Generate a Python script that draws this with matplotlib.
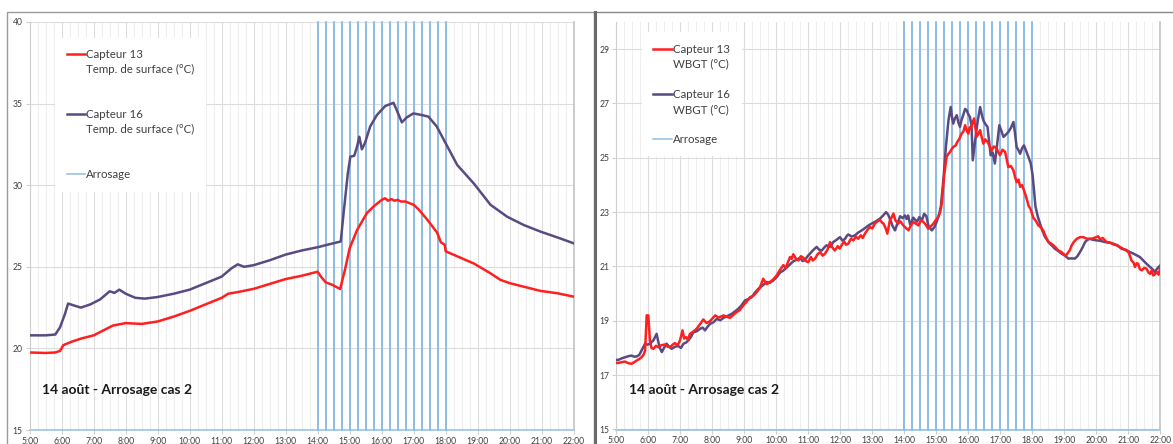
import matplotlib
matplotlib.use("Agg")
import matplotlib.pyplot as plt
from matplotlib.lines import Line2D
from matplotlib.patches import Rectangle
import matplotlib.ticker as mticker

plt.rcParams['font.family'] = ['Lato', 'DejaVu Sans']

# ---------------- data ----------------
hour_labels = ["5:00", "6:00", "7:00", "8:00", "9:00", "10:00", "11:00", "12:00", "13:00",
               "14:00", "15:00", "16:00", "17:00", "18:00", "19:00", "20:00", "21:00", "22:00"]

# Left chart: surface temperature (time in decimal hours)
surf13_t = [5.0, 5.5, 5.8, 5.95, 6.05, 6.3, 6.6, 7.0, 7.3, 7.6, 8.0, 8.5, 9.0, 9.5, 10.0, 10.5,
            11.0, 11.2, 11.5, 12.0, 12.5, 13.0, 13.5, 14.0, 14.1, 14.25, 14.45, 14.7, 14.85, 15.0,
            15.23, 15.54, 15.75, 16.0, 16.1, 16.2, 16.3, 16.4, 16.5, 16.6, 16.74, 17.0, 17.16,
            17.42, 17.73, 17.85, 17.97, 18.0, 18.88, 19.4, 19.71, 20.0, 20.44, 20.97, 21.49, 22.0]
surf13_v = [19.75, 19.72, 19.75, 19.85, 20.2, 20.4, 20.6, 20.8, 21.1, 21.4, 21.55, 21.5, 21.65, 21.95,
            22.3, 22.7, 23.1, 23.35, 23.45, 23.65, 23.95, 24.25, 24.45, 24.7, 24.4, 24.05, 23.9, 23.64,
            24.8, 26.15, 27.25, 28.3, 28.7, 29.1, 29.2, 29.05, 29.15, 29.05, 29.1, 29.0, 29.0, 28.8,
            28.5, 27.9, 27.1, 26.5, 26.35, 25.95, 25.2, 24.6, 24.2, 24.0, 23.78, 23.52, 23.38, 23.17]

surf16_t = [5.0, 5.5, 5.8, 5.95, 6.1, 6.2, 6.35, 6.6, 6.9, 7.2, 7.5, 7.65, 7.8, 8.0, 8.3, 8.6, 9.0,
            9.5, 10.0, 10.5, 11.0, 11.3, 11.5, 11.7, 12.0, 12.5, 13.0, 13.5, 14.0, 14.3, 14.72, 14.81,
            14.94, 15.02, 15.14, 15.23, 15.30, 15.38, 15.48, 15.64, 15.85, 16.11, 16.37, 16.47, 16.63,
            16.78, 16.99, 17.25, 17.46, 17.72, 17.99, 18.36, 18.88, 19.4, 19.92, 20.44, 20.97, 21.49, 22.0]
surf16_v = [20.8, 20.8, 20.85, 21.3, 22.1, 22.75, 22.65, 22.5, 22.7, 23.0, 23.5, 23.4, 23.6, 23.35,
            23.1, 23.05, 23.15, 23.35, 23.6, 24.0, 24.4, 24.9, 25.15, 25.0, 25.1, 25.4, 25.75, 26.0,
            26.2, 26.35, 26.55, 28.3, 30.7, 31.75, 31.8, 32.36, 32.97, 32.2, 32.6, 33.6, 34.3, 34.85,
            35.05, 34.6, 33.85, 34.15, 34.4, 34.3, 34.2, 33.6, 32.6, 31.24, 30.1, 28.8, 28.07, 27.56,
            27.15, 26.8, 26.44]

# Right chart: WBGT (rows of 10)
wbgt13_t = [5.00, 5.06, 5.17, 5.27, 5.38, 5.48, 5.56, 5.64, 5.72, 5.79,
            5.85, 5.90, 5.95, 6.00, 6.05, 6.10, 6.16, 6.24, 6.31, 6.40,
            6.52, 6.60, 6.68, 6.76, 6.83, 6.92, 6.99, 7.07, 7.12, 7.18,
            7.24, 7.30, 7.40, 7.51, 7.60, 7.72, 7.82, 7.93, 8.00, 8.09,
            8.20, 8.35, 8.45, 8.55, 8.66, 8.76, 8.86, 8.97, 9.07, 9.18,
            9.28, 9.39, 9.48, 9.59, 9.70, 9.80, 9.90, 10.01, 10.10, 10.22,
            10.30, 10.36, 10.43, 10.48, 10.53, 10.61, 10.69, 10.77, 10.85, 10.92,
            11.00, 11.08, 11.14, 11.21, 11.29, 11.37, 11.45, 11.52, 11.60, 11.68,
            11.75, 11.83, 11.92, 11.98, 12.04, 12.12, 12.18, 12.25, 12.33, 12.41,
            12.49, 12.56, 12.64, 12.70, 12.77, 12.85, 12.93, 13.00, 13.08, 13.16,
            13.24, 13.30, 13.35, 13.42, 13.47, 13.51, 13.55, 13.61, 13.66, 13.72,
            13.81, 13.88, 13.97, 14.05, 14.13, 14.20, 14.28, 14.36, 14.44, 14.52,
            14.60, 14.68, 14.75, 14.83, 14.91, 14.98, 15.06, 15.12, 15.17, 15.24,
            15.32, 15.38, 15.43, 15.48, 15.53, 15.60, 15.66, 15.72, 15.79, 15.85,
            15.90, 15.95, 16.00, 16.04, 16.07, 16.12, 16.18, 16.22, 16.26, 16.32,
            16.37, 16.42, 16.47, 16.53, 16.60, 16.66, 16.73, 16.80, 16.89, 16.94,
            16.99, 17.07, 17.15, 17.20, 17.25, 17.33, 17.41, 17.46, 17.51, 17.57,
            17.62, 17.68, 17.74, 17.81, 17.88, 17.95, 18.03, 18.11, 18.19, 18.26,
            18.34, 18.42, 18.50, 18.58, 18.66, 18.73, 18.81, 18.89, 18.97, 19.05,
            19.13, 19.18, 19.23, 19.31, 19.39, 19.49, 19.59, 19.72, 19.85, 19.95,
            20.06, 20.12, 20.20, 20.32, 20.44, 20.54, 20.64, 20.74, 20.84, 20.92,
            21.00, 21.05, 21.10, 21.16, 21.21, 21.26, 21.31, 21.36, 21.42, 21.50,
            21.57, 21.63, 21.68, 21.73, 21.78, 21.84, 21.89, 21.95, 22.00]
wbgt13_v = [17.45, 17.45, 17.48, 17.50, 17.44, 17.42, 17.48, 17.54, 17.60, 17.66,
            17.75, 17.91, 19.20, 19.20, 18.28, 18.00, 17.97, 18.08, 18.03, 18.10,
            18.13, 18.05, 18.03, 18.12, 18.18, 18.10, 18.28, 18.65, 18.35, 18.40,
            18.30, 18.52, 18.60, 18.71, 18.85, 19.05, 18.92, 18.99, 19.08, 19.20,
            19.12, 19.20, 19.15, 19.11, 19.22, 19.32, 19.40, 19.57, 19.70, 19.87,
            19.92, 20.06, 20.20, 20.55, 20.35, 20.43, 20.52, 20.67, 20.85, 21.05,
            20.95, 21.15, 21.35, 21.28, 21.45, 21.30, 21.22, 21.38, 21.32, 21.20,
            21.16, 21.35, 21.22, 21.29, 21.45, 21.53, 21.40, 21.47, 21.62, 21.90,
            21.70, 21.59, 21.75, 21.66, 21.78, 21.92, 21.80, 21.84, 22.02, 21.96,
            22.10, 22.02, 22.15, 22.05, 22.21, 22.35, 22.45, 22.40, 22.58, 22.66,
            22.72, 22.62, 22.58, 22.40, 22.21, 22.45, 22.70, 22.82, 22.95, 22.70,
            22.58, 22.66, 22.51, 22.42, 22.33, 22.50, 22.64, 22.58, 22.51, 22.70,
            22.64, 22.52, 22.39, 22.48, 22.58, 22.70, 22.82, 23.00, 23.31, 24.30,
            25.03, 25.15, 25.22, 25.32, 25.40, 25.45, 25.59, 25.70, 25.89, 25.98,
            26.20, 26.00, 25.89, 26.12, 26.08, 26.25, 26.45, 26.10, 25.77, 25.90,
            26.02, 25.75, 25.52, 25.68, 25.59, 25.45, 25.28, 25.42, 25.34, 25.20,
            25.10, 25.30, 25.22, 24.95, 24.66, 24.70, 24.54, 24.30, 24.11, 24.20,
            23.93, 24.00, 23.80, 23.55, 23.25, 23.10, 22.80, 22.68, 22.51, 22.45,
            22.33, 22.10, 21.90, 21.85, 21.78, 21.70, 21.59, 21.55, 21.47, 21.40,
            21.53, 21.62, 21.78, 21.92, 22.02, 22.08, 22.08, 22.02, 22.02, 22.06,
            22.11, 22.00, 22.05, 21.90, 21.88, 21.81, 21.78, 21.72, 21.65, 21.60,
            21.53, 21.40, 21.22, 21.15, 20.98, 21.12, 21.10, 20.90, 20.86, 20.95,
            20.92, 20.78, 20.73, 20.85, 20.67, 20.72, 20.80, 20.70, 20.98]

wbgt16_t = [5.00, 5.06, 5.17, 5.27, 5.38, 5.48, 5.56, 5.64, 5.72, 5.79,
            5.90, 5.98, 6.05, 6.16, 6.26, 6.35, 6.42, 6.50, 6.57, 6.65,
            6.73, 6.84, 6.94, 7.02, 7.10, 7.18, 7.25, 7.33, 7.41, 7.52,
            7.62, 7.70, 7.77, 7.85, 7.93, 8.04, 8.14, 8.25, 8.35, 8.48,
            8.61, 8.71, 8.81, 8.92, 9.02, 9.12, 9.23, 9.34, 9.44, 9.57,
            9.70, 9.80, 9.91, 10.02, 10.12, 10.22, 10.33, 10.43, 10.53, 10.64,
            10.74, 10.82, 10.90, 10.98, 11.05, 11.15, 11.26, 11.34, 11.42, 11.50,
            11.57, 11.68, 11.78, 11.88, 11.99, 12.07, 12.15, 12.20, 12.25, 12.36,
            12.46, 12.56, 12.67, 12.78, 12.88, 12.98, 13.08, 13.16, 13.24, 13.34,
            13.43, 13.49, 13.55, 13.63, 13.71, 13.79, 13.87, 13.95, 14.02, 14.07,
            14.12, 14.18, 14.23, 14.28, 14.34, 14.40, 14.47, 14.55, 14.62, 14.69,
            14.75, 14.80, 14.86, 14.94, 15.01, 15.08, 15.14, 15.22, 15.30, 15.38,
            15.45, 15.49, 15.53, 15.58, 15.64, 15.69, 15.74, 15.79, 15.84, 15.90,
            15.95, 16.00, 16.05, 16.10, 16.14, 16.19, 16.24, 16.30, 16.37, 16.42,
            16.47, 16.53, 16.60, 16.65, 16.70, 16.76, 16.83, 16.90, 16.97, 17.03,
            17.10, 17.17, 17.25, 17.33, 17.41, 17.46, 17.51, 17.56, 17.62, 17.68,
            17.74, 17.81, 17.88, 17.95, 18.01, 18.10, 18.17, 18.24, 18.32, 18.40,
            18.48, 18.55, 18.63, 18.71, 18.80, 18.92, 19.02, 19.13, 19.23, 19.33,
            19.41, 19.49, 19.57, 19.65, 19.72, 19.80, 19.90, 20.01, 20.14, 20.27,
            20.40, 20.53, 20.66, 20.79, 20.92, 21.05, 21.15, 21.26, 21.36, 21.47,
            21.57, 21.68, 21.76, 21.83, 21.92, 22.00]
wbgt16_v = [17.56, 17.56, 17.62, 17.66, 17.70, 17.72, 17.68, 17.69, 17.75, 17.91,
            18.16, 18.12, 18.16, 18.28, 18.52, 18.03, 17.85, 18.02, 18.16, 18.05,
            17.97, 18.05, 18.07, 18.00, 18.16, 18.20, 18.28, 18.40, 18.58, 18.62,
            18.71, 18.75, 18.65, 18.78, 18.89, 18.95, 19.07, 19.02, 19.11, 19.18,
            19.26, 19.35, 19.44, 19.58, 19.75, 19.80, 19.87, 20.05, 20.18, 20.30,
            20.43, 20.40, 20.49, 20.62, 20.78, 20.85, 20.97, 21.08, 21.19, 21.25,
            21.32, 21.20, 21.25, 21.38, 21.47, 21.60, 21.72, 21.62, 21.59, 21.70,
            21.78, 21.72, 21.90, 21.98, 22.08, 21.95, 22.02, 22.12, 22.18, 22.10,
            22.15, 22.25, 22.33, 22.42, 22.51, 22.58, 22.64, 22.70, 22.76, 22.88,
            23.00, 22.92, 22.76, 22.50, 22.33, 22.60, 22.85, 22.78, 22.88, 22.75,
            22.88, 22.55, 22.64, 22.80, 22.72, 22.65, 22.82, 22.70, 22.94, 22.85,
            22.51, 22.42, 22.33, 22.45, 22.64, 22.90, 23.19, 24.17, 25.40, 26.38,
            26.87, 26.50, 26.26, 26.45, 26.57, 26.30, 26.14, 26.40, 26.57, 26.80,
            26.75, 26.60, 26.51, 26.20, 24.91, 25.40, 25.89, 26.40, 26.87, 26.60,
            26.38, 26.25, 26.14, 25.60, 25.09, 25.20, 24.79, 25.50, 26.20, 26.00,
            25.77, 25.85, 25.95, 26.10, 26.32, 25.90, 25.40, 25.30, 25.15, 25.35,
            25.46, 25.25, 25.03, 24.80, 24.36, 23.20, 22.85, 22.58, 22.30, 22.08,
            21.95, 21.84, 21.75, 21.65, 21.58, 21.47, 21.40, 21.29, 21.30, 21.29,
            21.38, 21.53, 21.70, 21.90, 21.98, 22.02, 21.98, 21.96, 21.94, 21.90,
            21.88, 21.84, 21.78, 21.65, 21.62, 21.53, 21.48, 21.41, 21.35, 21.22,
            21.10, 20.98, 20.90, 20.80, 20.95, 21.04]

# Watering events (Arrosage): on/off pulses
arrosage_on = [14.0, 14.25, 14.5, 14.75, 15.0, 15.25, 15.5, 15.75, 16.0, 16.25, 16.5, 16.75,
               17.0, 17.25, 17.5, 17.75, 18.0]

title_text = "14 août - Arrosage cas 2"
left_labels = ["Capteur 13", "Temp. de surface (°C)", "Capteur 16", "Temp. de surface (°C)", "Arrosage"]
right_labels = ["Capteur 13", "WBGT (°C)", "Capteur 16", "WBGT (°C)", "Arrosage"]

# ---------------- style ----------------
RED = "#ff1f1f"
PURPLE = "#5a4a82"
BLUE = "#8fbde3"
MAJ_GRID = "#dcdcdc"
MIN_GRID = "#eeeeee"
TXT = "#404040"

W, H = 1173, 444
fig = plt.figure(figsize=(W / 100, H / 100), dpi=100)
fig.patch.set_facecolor("white")


def px_box(x0, x1, ytop, ybot):
    return [x0 / W, 1 - ybot / H, (x1 - x0) / W, (ybot - ytop) / H]


# panel frames
fig.patches.append(Rectangle((7 / W, -0.05), (594 - 7) / W, 1.05 - 12 / H, transform=fig.transFigure,
                             fill=False, edgecolor="#9a9a9a", linewidth=1.0, zorder=0))
fig.patches.append(Rectangle((595 / W, -0.05), 0.6, 1.05 - 12 / H, transform=fig.transFigure,
                             fill=False, edgecolor="#8a8a8a", linewidth=1.0, zorder=0))
fig.add_artist(Line2D([594.5 / W, 594.5 / W], [0, 1 - 12 / H], transform=fig.transFigure,
                      color="#6a6a6a", linewidth=2.2))


def arrosage_series():
    xs, ys = [5.0], [0]
    for t in arrosage_on:
        xs += [t, t, t]
        ys += [0, 1, 0]
    xs.append(22.0)
    ys.append(0)
    return xs, ys


def setup(ax, ylim, yticks):
    ax.set_xlim(5, 22)
    ax.set_ylim(*ylim)
    ax.set_xticks(range(5, 23))
    ax.set_xticklabels(hour_labels)
    ax.xaxis.set_minor_locator(mticker.MultipleLocator(0.25))
    ax.set_yticks(yticks)
    ax.set_yticklabels([f"{v:d}" for v in yticks])
    ax.grid(which="major", axis="x", color=MAJ_GRID, linewidth=0.8, zorder=0)
    ax.grid(which="minor", axis="x", color=MIN_GRID, linewidth=0.8, zorder=0)
    ax.grid(which="major", axis="y", color=MAJ_GRID, linewidth=0.8, zorder=0)
    ax.set_axisbelow(True)
    ax.spines["top"].set_visible(False)
    ax.spines["right"].set_color("#c4c4c4")
    ax.spines["right"].set_linewidth(1.2)
    ax.spines["left"].set_color("#d0d0d0")
    ax.spines["bottom"].set_visible(False)
    ax.tick_params(axis="both", which="major", labelsize=6.2, colors="#d0d0d0", labelcolor=TXT,
                   length=3, width=0.8, pad=2)
    ax.tick_params(axis="x", which="minor", length=0)


def draw_panel(rect, t13, v13, t16, v16, ylim, yticks, labels, anchor_y, blank_fs):
    ax = fig.add_axes(rect)
    setup(ax, ylim, yticks)

    xa, ya = arrosage_series()
    ax.plot(xa, ya, color=BLUE, linewidth=1.1, transform=ax.get_xaxis_transform(),
            clip_on=False, zorder=2)

    l13, = ax.plot(t13, v13, color=RED, linewidth=1.8, zorder=4)
    l16, = ax.plot(t16, v16, color=PURPLE, linewidth=1.8, zorder=3)

    blank = Line2D([], [], color="none")
    la = Line2D([], [], color=BLUE, linewidth=1.1)
    handles = [l13, blank, blank, l16, blank, blank, la]
    labs = [labels[0], labels[1], " ", labels[2], labels[3], " ", labels[4]]
    leg = ax.legend(handles, labs, loc="upper left", bbox_to_anchor=(0.047, anchor_y),
                    borderaxespad=0, frameon=True, fancybox=False, framealpha=1,
                    facecolor="white", edgecolor="none", fontsize=8.3,
                    handlelength=1.6, handletextpad=0.1, labelspacing=0.35,
                    borderpad=1.0)
    texts = leg.get_texts()
    for txt in texts:
        txt.set_color(TXT)
    texts[2].set_fontsize(blank_fs)
    texts[5].set_fontsize(blank_fs)
    leg.set_zorder(5)
    ax.text(0.023, 0.098, title_text, transform=ax.transAxes, fontsize=10, fontweight="bold",
            color="#1a1a1a", va="center", ha="left", zorder=6)
    return ax


draw_panel(px_box(29.7, 573.7, 22, 430), surf13_t, surf13_v, surf16_t, surf16_v,
           (15, 40), [15, 20, 25, 30, 35, 40], left_labels, 0.962, 21)
draw_panel(px_box(616.3, 1160.3, 22, 429.5), wbgt13_t, wbgt13_v, wbgt16_t, wbgt16_v,
           (15, 30), [15, 17, 19, 21, 23, 25, 27, 29], right_labels, 0.975, 8.5)

fig.savefig("out.png", dpi=100, facecolor="white")
